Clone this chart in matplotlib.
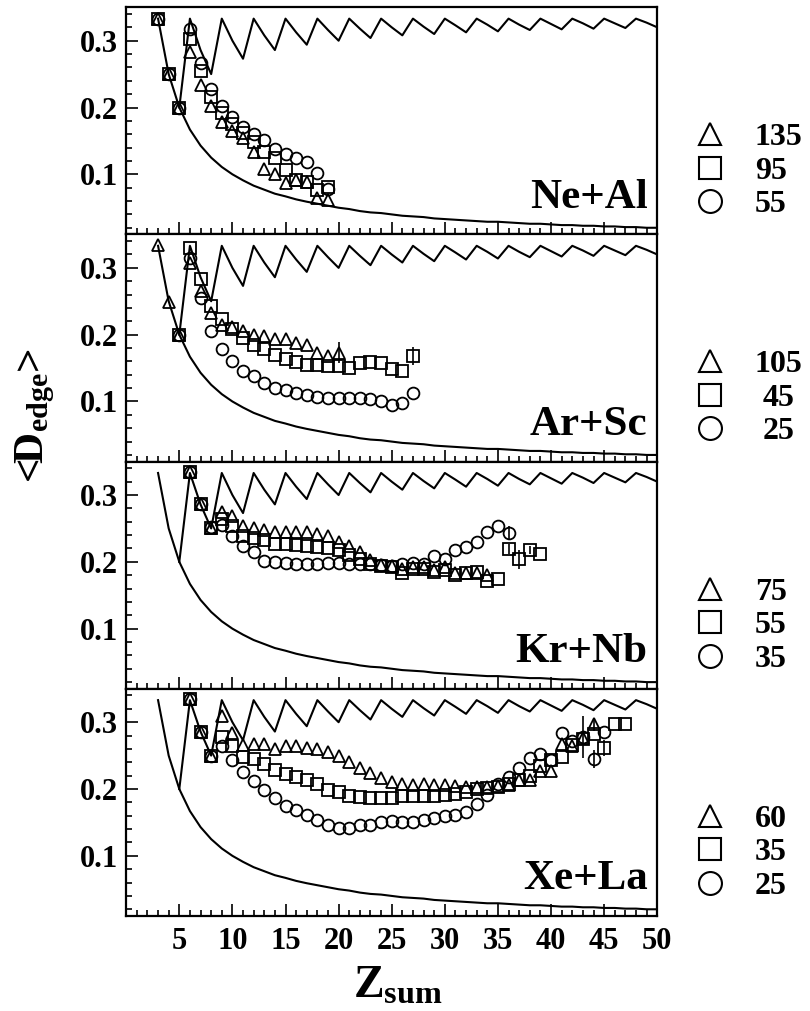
import matplotlib
matplotlib.use("Agg")
import matplotlib.pyplot as plt
from matplotlib.ticker import MultipleLocator, FixedLocator, FormatStrFormatter

plt.rcParams['font.family'] = ['Liberation Serif', 'DejaVu Serif']
plt.rcParams['font.weight'] = 'bold'
plt.rcParams['mathtext.fontset'] = 'custom'
plt.rcParams['mathtext.rm'] = 'Liberation Serif:bold'
plt.rcParams['mathtext.it'] = 'Liberation Serif:bold'
plt.rcParams['mathtext.bf'] = 'Liberation Serif:bold'

# lower limit curve (integer Z = 3..50)
lim_low_z = list(range(3, 51))
lim_low = [0.333, 0.25, 0.2, 0.167, 0.143, 0.125, 0.111, 0.1, 0.091, 0.083,
           0.077, 0.071, 0.067, 0.0625, 0.059, 0.056, 0.053, 0.05, 0.048, 0.045,
           0.043, 0.042, 0.04, 0.038, 0.037, 0.036, 0.034, 0.033, 0.032, 0.031,
           0.030, 0.029, 0.029, 0.028, 0.027, 0.026, 0.026, 0.025, 0.024, 0.024,
           0.023, 0.023, 0.022, 0.022, 0.021, 0.021, 0.020, 0.020]
# upper limit curve (integer Z = 5..50)
lim_up_z = list(range(5, 51))
lim_up = [0.2, 0.333, 0.286, 0.25, 0.333, 0.3, 0.273, 0.333, 0.308, 0.286,
          0.333, 0.3125, 0.294, 0.333, 0.316, 0.3, 0.333, 0.318, 0.304, 0.333,
          0.32, 0.308, 0.333, 0.321, 0.310, 0.333, 0.323, 0.3125, 0.333, 0.324,
          0.314, 0.333, 0.324, 0.316, 0.333, 0.325, 0.317, 0.333, 0.326, 0.318,
          0.333, 0.326, 0.319, 0.333, 0.327, 0.32]

# Ne+Al
ne_tri_z = list(range(3, 20))
ne_tri = [0.332, 0.25, 0.2, 0.283, 0.233, 0.202, 0.178, 0.165, 0.155, 0.134,
          0.108, 0.101, 0.087, 0.091, 0.088, 0.064, 0.061]
ne_sq_z = list(range(3, 20))
ne_sq = [0.332, 0.25, 0.2, 0.302, 0.255, 0.216, 0.192, 0.175, 0.162, 0.148,
         0.134, 0.124, 0.106, 0.091, 0.088, 0.077, 0.081]
ne_ci_z = list(range(3, 20))
ne_ci = [0.332, 0.25, 0.2, 0.318, 0.267, 0.227, 0.202, 0.186, 0.171, 0.16,
         0.151, 0.138, 0.131, 0.124, 0.118, 0.102, 0.078]

# Ar+Sc
ar_tri_z = list(range(3, 21))
ar_tri = [0.334, 0.249, 0.2, 0.307, 0.265, 0.233, 0.214, 0.211, 0.205, 0.2,
          0.198, 0.193, 0.194, 0.188, 0.184, 0.173, 0.168, 0.173]
ar_sq_z = list(range(5, 28))
ar_sq = [0.2, 0.329, 0.283, 0.243, 0.224, 0.208, 0.195, 0.185, 0.178, 0.17,
         0.163, 0.159, 0.155, 0.155, 0.153, 0.153, 0.15, 0.157, 0.159, 0.158,
         0.149, 0.145, 0.168]
ar_ci_z = list(range(5, 28))
ar_ci = [0.2, 0.315, 0.255, 0.205, 0.179, 0.16, 0.145, 0.138, 0.128, 0.12,
         0.117, 0.112, 0.11, 0.107, 0.105, 0.105, 0.105, 0.105, 0.103, 0.101,
         0.095, 0.098, 0.113]

# Kr+Nb
kr_tri_z = list(range(6, 35))
kr_tri = [0.334, 0.287, 0.25, 0.275, 0.268, 0.253, 0.25, 0.248, 0.245, 0.245,
          0.245, 0.244, 0.242, 0.239, 0.23, 0.224, 0.214, 0.203, 0.195, 0.194,
          0.19, 0.193, 0.192, 0.188, 0.192, 0.183, 0.184, 0.184, 0.18]
kr_sq_z = list(range(6, 40))
kr_sq = [0.334, 0.287, 0.25, 0.264, 0.253, 0.239, 0.235, 0.232, 0.227, 0.227,
         0.225, 0.224, 0.222, 0.22, 0.217, 0.21, 0.204, 0.197, 0.194, 0.192,
         0.184, 0.189, 0.19, 0.185, 0.188, 0.18, 0.184, 0.185, 0.172, 0.174,
         0.219, 0.204, 0.217, 0.211]
kr_ci_z = list(range(6, 37))
kr_ci = [0.334, 0.287, 0.252, 0.255, 0.239, 0.224, 0.214, 0.201, 0.2, 0.198,
         0.197, 0.197, 0.197, 0.198, 0.198, 0.197, 0.197, 0.197, 0.195, 0.194,
         0.197, 0.198, 0.197, 0.209, 0.204, 0.218, 0.222, 0.23, 0.244, 0.253,
         0.243]

# Xe+La
xe_tri_z = list(range(6, 45))
xe_tri = [0.334, 0.286, 0.25, 0.31, 0.284, 0.266, 0.268, 0.267, 0.26, 0.265,
          0.265, 0.262, 0.26, 0.256, 0.249, 0.24, 0.231, 0.224, 0.217, 0.21,
          0.208, 0.206, 0.208, 0.206, 0.206, 0.204, 0.203, 0.203, 0.203, 0.205,
          0.206, 0.214, 0.214, 0.227, 0.227, 0.268, 0.264, 0.277, 0.297]
xe_sq_z = list(range(6, 48))
xe_sq = [0.334, 0.286, 0.25, 0.278, 0.265, 0.248, 0.245, 0.238, 0.228, 0.223,
         0.218, 0.213, 0.208, 0.199, 0.195, 0.19, 0.188, 0.187, 0.186, 0.186,
         0.189, 0.19, 0.19, 0.19, 0.191, 0.193, 0.195, 0.2, 0.201, 0.203,
         0.208, 0.214, 0.22, 0.235, 0.244, 0.248, 0.266, 0.275, 0.282, 0.262,
         0.298, 0.298]
xe_ci_z = list(range(6, 46))
xe_ci = [0.334, 0.286, 0.25, 0.265, 0.244, 0.225, 0.212, 0.198, 0.186, 0.175,
         0.168, 0.161, 0.153, 0.146, 0.142, 0.141, 0.146, 0.146, 0.15, 0.152,
         0.151, 0.15, 0.153, 0.156, 0.159, 0.161, 0.165, 0.177, 0.191, 0.207,
         0.218, 0.231, 0.247, 0.253, 0.244, 0.284, 0.272, 0.278, 0.245, 0.285]

# error bars {Z: half length}
ar_tri_err = {20: 0.016}
ar_sq_err = {27: 0.013}
kr_sq_err = {36: 0.008, 37: 0.014, 38: 0.006}
kr_ci_err = {36: 0.01}
xe_tri_err = {44: 0.01}
xe_sq_err = {45: 0.012}
xe_ci_err = {43: 0.032, 44: 0.014}

systems = ["Ne+Al", "Ar+Sc", "Kr+Nb", "Xe+La"]
energies = [["135", "95", "55"], ["105", "45", "25"],
            ["75", "55", "35"], ["60", "35", "25"]]
markers = ['^', 's', 'o']

panels = [
    [(ne_tri_z, ne_tri, {}), (ne_sq_z, ne_sq, {}), (ne_ci_z, ne_ci, {})],
    [(ar_tri_z, ar_tri, ar_tri_err), (ar_sq_z, ar_sq, ar_sq_err), (ar_ci_z, ar_ci, {})],
    [(kr_tri_z, kr_tri, {}), (kr_sq_z, kr_sq, kr_sq_err), (kr_ci_z, kr_ci, kr_ci_err)],
    [(xe_tri_z, xe_tri, xe_tri_err), (xe_sq_z, xe_sq, xe_sq_err), (xe_ci_z, xe_ci, xe_ci_err)],
]

fig, axes = plt.subplots(4, 1, figsize=(8.1, 10.11), dpi=100, sharex=True)
fig.subplots_adjust(left=0.1558, right=0.8114, bottom=0.094, top=0.9928, hspace=0)

leg_y = [0.441, 0.294, 0.1465]

for i, ax in enumerate(axes):
    ax.plot(lim_low_z, lim_low, color='black', lw=1.5)
    ax.plot(lim_up_z, lim_up, color='black', lw=1.5)
    for (z, d, err), m in zip(panels[i], markers):
        ax.plot(z, d, ls='none', marker=m, ms=8.5, mfc='none', mec='black', mew=1.3)
        if err:
            ez = list(err.keys())
            ed = [d[z.index(k)] for k in ez]
            ax.errorbar(ez, ed, yerr=list(err.values()), fmt='none',
                        ecolor='black', elinewidth=1.2, capsize=0)
    ax.text(49.1, 0.05, systems[i], ha='right', va='baseline', fontsize=31)

    # legend to the right of each panel
    for m, lab, y in zip(markers, energies[i], leg_y):
        ax.plot([1.099], [y], transform=ax.transAxes, clip_on=False, marker=m,
                ms=16.5, mfc='none', mec='black', mew=1.5)
        if i == 1:
            ax.text(1.229, y, lab, transform=ax.transAxes, ha='center',
                    va='center_baseline', fontsize=23)
        else:
            ax.text(1.184, y, lab, transform=ax.transAxes, ha='left',
                    va='center_baseline', fontsize=23)

    ax.set_xlim(0, 50)
    ax.set_ylim(0.01, 0.35)
    ax.xaxis.set_major_locator(FixedLocator(range(5, 51, 5)))
    ax.xaxis.set_minor_locator(MultipleLocator(1))
    ax.yaxis.set_major_locator(FixedLocator([0.1, 0.2, 0.3]))
    ax.yaxis.set_minor_locator(MultipleLocator(0.02))
    ax.yaxis.set_major_formatter(FormatStrFormatter('%.1f'))
    ax.tick_params(which='both', direction='in', top=False, right=False)
    ax.tick_params(which='major', length=8.5, width=1.2, labelsize=22)
    ax.tick_params(which='minor', length=4.3, width=1.2)
    ax.tick_params(axis='x', pad=8)
    ax.tick_params(axis='y', pad=6)
    for s in ax.spines.values():
        s.set_linewidth(1.6)

fig.text(0.0531, 0.5223, r'<D$_{\rm edge}$>', rotation=90, rotation_mode='anchor',
         ha='left', va='baseline', fontsize=31)
fig.text(0.4358, 0.0129, r'Z$_{\rm sum}$', ha='left', va='baseline', fontsize=33)

fig.savefig("out.png", dpi=100)
